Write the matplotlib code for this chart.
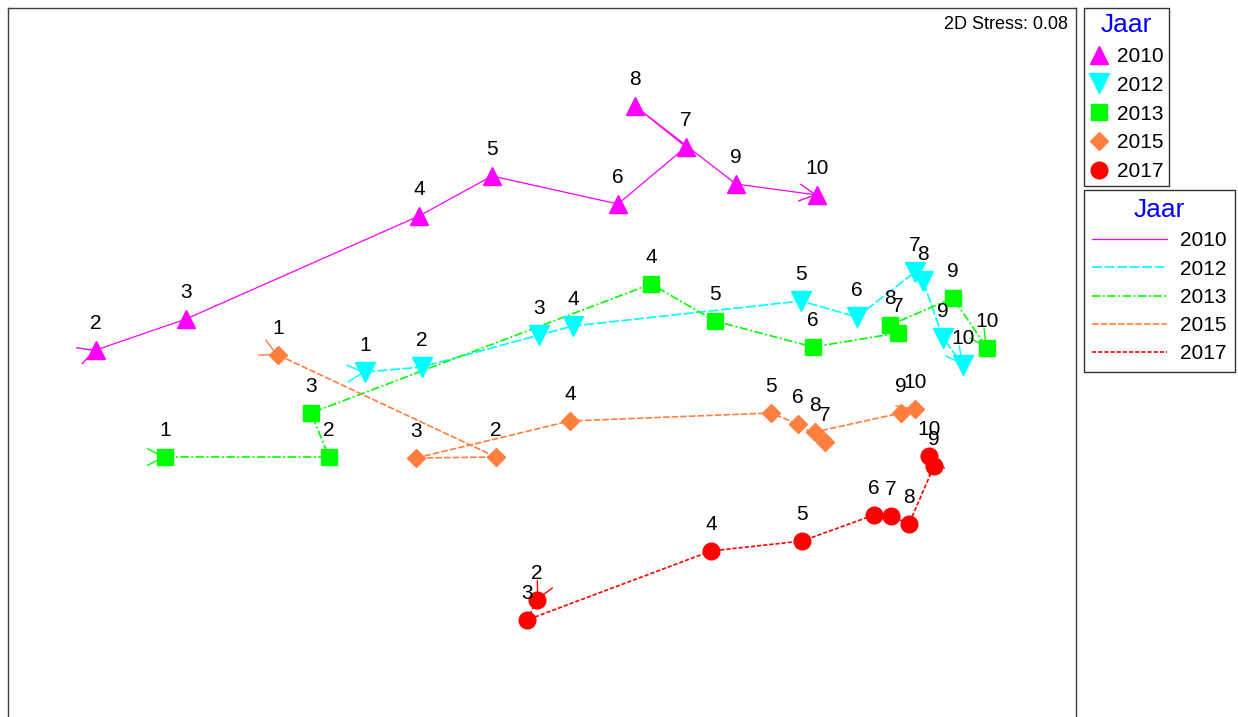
import matplotlib
matplotlib.use("Agg")
import matplotlib.pyplot as plt
from matplotlib.lines import Line2D
import numpy as np

plt.rcParams['font.family'] = ['Liberation Sans', 'DejaVu Sans']

# ---- data (MDS coordinates, arbitrary units) ----
years = ["2010", "2012", "2013", "2015", "2017"]

x_2010 = [-4.44, -3.54, -1.21, -0.48, 0.78, 1.46, 0.95, 1.96, 2.77]
y_2010 = [0.10, 0.41, 1.44, 1.84, 1.56, 2.13, 2.54, 1.76, 1.65]
lab_2010 = ["2", "3", "4", "5", "6", "7", "8", "9", "10"]

x_2012 = [-1.75, -1.18, -0.01, 0.33, 2.61, 3.17, 3.75, 3.83, 4.03, 4.23]
y_2012 = [-0.12, -0.07, 0.25, 0.34, 0.59, 0.43, 0.88, 0.79, 0.22, -0.05]
lab_2012 = ["1", "2", "3", "4", "5", "6", "7", "8", "9", "10"]

x_2013 = [-3.75, -2.11, -2.29, 1.11, 1.75, 2.73, 3.58, 3.50, 4.13, 4.47]
y_2013 = [-0.97, -0.97, -0.53, 0.76, 0.39, 0.13, 0.27, 0.35, 0.62, 0.12]
lab_2013 = ["1", "2", "3", "4", "5", "6", "7", "8", "9", "10"]

x_2015 = [-2.62, -0.44, -1.24, 0.30, 2.31, 2.58, 2.85, 2.75, 3.61, 3.75]
y_2015 = [0.05, -0.97, -0.98, -0.61, -0.53, -0.64, -0.82, -0.72, -0.53, -0.49]
lab_2015 = ["1", "2", "3", "4", "5", "6", "7", "8", "9", "10"]

x_2017 = [-0.03, -0.13, 1.71, 2.62, 3.34, 3.51, 3.69, 3.94, 3.89]
y_2017 = [-2.40, -2.60, -1.91, -1.81, -1.55, -1.56, -1.64, -1.06, -0.96]
lab_2017 = ["2", "3", "4", "5", "6", "7", "8", "9", "10"]

stress_text = "2D Stress: 0.08"

# ---- styles ----
series = [
    (x_2010, y_2010, lab_2010),
    (x_2012, y_2012, lab_2012),
    (x_2013, y_2013, lab_2013),
    (x_2015, y_2015, lab_2015),
    (x_2017, y_2017, lab_2017),
]
colors = ["#FF00FF", "#00FFFF", "#00FF00", "#FF7F3F", "#FF0000"]
markers = ["^", "v", "s", "D", "o"]
msizes = [13, 14, 12, 9.5, 12]
linestyles = ["-", (0, (6, 1.5)), (0, (5, 1.5, 1.2, 1.5)), (0, (4, 1.2)), (0, (2.5, 1.2))]
linewidths = [0.9, 1.2, 1.2, 1.2, 1.2]

W, H = 1238, 717
fig = plt.figure(figsize=(W / 100, H / 100), dpi=100)
ax = fig.add_axes([8 / W, (H - 720) / H, 1068 / W, 712 / H])
ax.set_xlim(-5.32, 5.36)
ax.set_ylim(-3.60, 3.52)
ax.set_xticks([])
ax.set_yticks([])
for s in ax.spines.values():
    s.set_color("#404040")
    s.set_linewidth(1.0)

def arrow(ax, tip, d, color):
    d = np.asarray(d, float)
    d = d / np.hypot(*d)
    tail = np.asarray(tip) - d * 0.01
    ax.annotate("", xy=tip, xytext=tail,
                arrowprops=dict(arrowstyle="->,head_length=1.05,head_width=0.55",
                                color=color, lw=1.0, shrinkA=0, shrinkB=0,
                                mutation_scale=11),
                zorder=2)

for (xs, ys, labs), c, m, ms, ls, lw in zip(series, colors, markers, msizes, linestyles, linewidths):
    ax.plot(xs, ys, color=c, ls=ls, lw=lw, zorder=2)
    ax.plot(xs, ys, ls="none", marker=m, ms=ms, color=c, mec=c, zorder=3)
    # start and end arrowheads
    arrow(ax, (xs[0], ys[0]), (xs[1] - xs[0], ys[1] - ys[0]), c)
    arrow(ax, (xs[-1], ys[-1]), (xs[-1] - xs[-2], ys[-1] - ys[-2]), c)
    for xv, yv, lb in zip(xs, ys, labs):
        ax.annotate(lb, (xv, yv), xytext=(0, 19), textcoords="offset points",
                    ha="center", va="center", fontsize=15, color="black", zorder=4)

ax.text(1060 / 1068, 1 - 17 / 712, stress_text, transform=ax.transAxes,
        ha="right", va="center", fontsize=13)

# ---- legends ----
h1 = [Line2D([], [], ls="none", marker=m, ms=ms, color=c) for m, ms, c in zip(markers, msizes, colors)]
leg1 = fig.legend(h1, years, loc="upper left", bbox_to_anchor=(1084 / W, 1 - 8 / H),
                  bbox_transform=fig.transFigure, frameon=True, fancybox=False,
                  edgecolor="black", fontsize=15, title="Jaar", title_fontsize=19,
                  borderaxespad=0, borderpad=0.25, labelspacing=0.47,
                  handletextpad=0.43, handlelength=0.9)
leg1.get_title().set_color("blue")
leg1.get_frame().set_linewidth(1.0)

h2 = [Line2D([], [], color=c, ls=ls, lw=lw) for c, ls, lw in zip(colors, linestyles, linewidths)]
leg2 = fig.legend(h2, years, loc="upper left", bbox_to_anchor=(1084 / W, 1 - 190 / H),
                  bbox_transform=fig.transFigure, frameon=True, fancybox=False,
                  edgecolor="black", fontsize=15, title="Jaar", title_fontsize=19,
                  borderaxespad=0, borderpad=0.4, labelspacing=0.44,
                  handletextpad=0.6, handlelength=3.6)
leg2.get_title().set_color("blue")
leg2.get_frame().set_linewidth(1.0)

fig.savefig("out.png", dpi=100)
